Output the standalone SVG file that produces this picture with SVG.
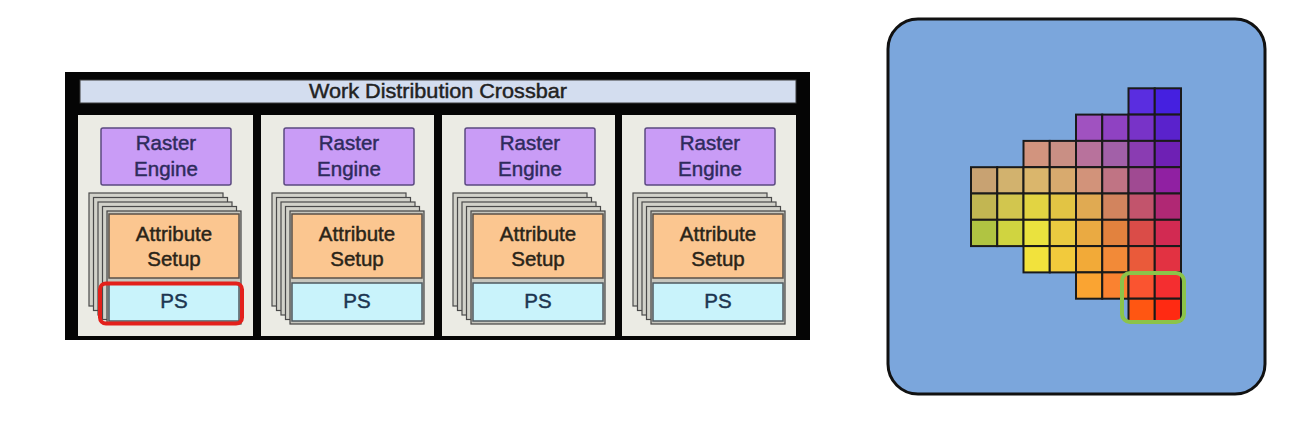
<svg xmlns="http://www.w3.org/2000/svg" width="1289" height="437" viewBox="0 0 1289 437">
<style>
.panel{fill:#ebebe4;}
.raster{fill:#c99cf6;stroke:#5b4a80;stroke-width:1.5;}
.card{fill:#d2d2ca;stroke:#4a4a4a;stroke-width:1.2;}
.front{fill:#c6c6be;stroke:#444;stroke-width:1.2;}
.attr{fill:#fbc690;stroke:#5a5048;stroke-width:1.5;}
.ps{fill:#c9f3fb;stroke:#4f5a60;stroke-width:1.5;}
.t{font-family:"Liberation Sans",Arial,sans-serif;font-size:20.5px;text-anchor:middle;stroke-width:0.45px;}
.tr{fill:#2e2b5c;stroke:#2e2b5c;}
.ta{fill:#2a2418;stroke:#2a2418;}
.tp{fill:#1c3550;stroke:#1c3550;}
.cell{stroke:#1a1a1a;stroke-width:2;}
</style>
<rect width="1289" height="437" fill="#ffffff"/>

<g id="gpc-frame">
<rect x="65" y="72" width="745" height="268" fill="#050505"/>
</g>
<g id="crossbar">
<rect x="80" y="80" width="716" height="23" fill="#d3ddef" stroke="#3a3a3a" stroke-width="1"/>
<text class="t" x="438" y="98" fill="#222" stroke="#222" textLength="258" lengthAdjust="spacingAndGlyphs">Work Distribution Crossbar</text>
</g>

<g id="gpc1" transform="translate(78,0)">
<rect class="panel" x="0" y="115" width="175" height="221"/>
<rect class="raster" x="23" y="128" width="130" height="57" rx="2"/>
<text class="t tr" x="88" y="150">Raster</text>
<text class="t tr" x="88" y="176">Engine</text>
<rect class="card" x="11" y="193" width="134" height="113"/>
<rect class="card" x="15.5" y="197.5" width="134" height="113"/>
<rect class="card" x="20" y="202" width="134" height="113"/>
<rect class="card" x="24.5" y="206.5" width="134" height="113"/>
<rect class="front" x="29" y="211" width="134" height="113"/>
<rect class="attr" x="31" y="214" width="130" height="64"/>
<text class="t ta" x="96" y="241">Attribute</text>
<text class="t ta" x="96" y="266">Setup</text>
<rect class="ps" x="31" y="283" width="130" height="38"/>
<text class="t tp" x="96" y="308">PS</text>
<rect x="22" y="283.5" width="142" height="40" rx="6" fill="none" stroke="#e3201b" stroke-width="4"/>
</g>

<g id="gpc2" transform="translate(261,0)">
<rect class="panel" x="0" y="115" width="173" height="221"/>
<rect class="raster" x="23" y="128" width="130" height="57" rx="2"/>
<text class="t tr" x="88" y="150">Raster</text>
<text class="t tr" x="88" y="176">Engine</text>
<rect class="card" x="11" y="193" width="134" height="113"/>
<rect class="card" x="15.5" y="197.5" width="134" height="113"/>
<rect class="card" x="20" y="202" width="134" height="113"/>
<rect class="card" x="24.5" y="206.5" width="134" height="113"/>
<rect class="front" x="29" y="211" width="134" height="113"/>
<rect class="attr" x="31" y="214" width="130" height="64"/>
<text class="t ta" x="96" y="241">Attribute</text>
<text class="t ta" x="96" y="266">Setup</text>
<rect class="ps" x="31" y="283" width="130" height="38"/>
<text class="t tp" x="96" y="308">PS</text>
</g>

<g id="gpc3" transform="translate(442,0)">
<rect class="panel" x="0" y="115" width="173" height="221"/>
<rect class="raster" x="23" y="128" width="130" height="57" rx="2"/>
<text class="t tr" x="88" y="150">Raster</text>
<text class="t tr" x="88" y="176">Engine</text>
<rect class="card" x="11" y="193" width="134" height="113"/>
<rect class="card" x="15.5" y="197.5" width="134" height="113"/>
<rect class="card" x="20" y="202" width="134" height="113"/>
<rect class="card" x="24.5" y="206.5" width="134" height="113"/>
<rect class="front" x="29" y="211" width="134" height="113"/>
<rect class="attr" x="31" y="214" width="130" height="64"/>
<text class="t ta" x="96" y="241">Attribute</text>
<text class="t ta" x="96" y="266">Setup</text>
<rect class="ps" x="31" y="283" width="130" height="38"/>
<text class="t tp" x="96" y="308">PS</text>
</g>

<g id="gpc4" transform="translate(622,0)">
<rect class="panel" x="0" y="115" width="174" height="221"/>
<rect class="raster" x="23" y="128" width="130" height="57" rx="2"/>
<text class="t tr" x="88" y="150">Raster</text>
<text class="t tr" x="88" y="176">Engine</text>
<rect class="card" x="11" y="193" width="134" height="113"/>
<rect class="card" x="15.5" y="197.5" width="134" height="113"/>
<rect class="card" x="20" y="202" width="134" height="113"/>
<rect class="card" x="24.5" y="206.5" width="134" height="113"/>
<rect class="front" x="29" y="211" width="134" height="113"/>
<rect class="attr" x="31" y="214" width="130" height="64"/>
<text class="t ta" x="96" y="241">Attribute</text>
<text class="t ta" x="96" y="266">Setup</text>
<rect class="ps" x="31" y="283" width="130" height="38"/>
<text class="t tp" x="96" y="308">PS</text>
</g>

<g id="connectors"></g>

<g id="raster-tile">
<rect x="888" y="19" width="377" height="375" rx="30" fill="#7ba6dc" stroke="#111" stroke-width="3"/>
<rect class="cell" x="1128.5" y="88.3" width="26.25" height="26.3" fill="#5a2de0"/>
<rect class="cell" x="1154.75" y="88.3" width="26.25" height="26.3" fill="#4520e0"/>
<rect class="cell" x="1076" y="114.6" width="26.25" height="26.3" fill="#a052c0"/>
<rect class="cell" x="1102.25" y="114.6" width="26.25" height="26.3" fill="#8f42c2"/>
<rect class="cell" x="1128.5" y="114.6" width="26.25" height="26.3" fill="#7833c8"/>
<rect class="cell" x="1154.75" y="114.6" width="26.25" height="26.3" fill="#5a22cc"/>
<rect class="cell" x="1023.5" y="140.9" width="26.25" height="26.3" fill="#d2947e"/>
<rect class="cell" x="1049.75" y="140.9" width="26.25" height="26.3" fill="#c98f84"/>
<rect class="cell" x="1076" y="140.9" width="26.25" height="26.3" fill="#b8729c"/>
<rect class="cell" x="1102.25" y="140.9" width="26.25" height="26.3" fill="#a260a8"/>
<rect class="cell" x="1128.5" y="140.9" width="26.25" height="26.3" fill="#8a3cb2"/>
<rect class="cell" x="1154.75" y="140.9" width="26.25" height="26.3" fill="#6e20b4"/>
<rect class="cell" x="971" y="167.2" width="26.25" height="26.3" fill="#c8a272"/>
<rect class="cell" x="997.25" y="167.2" width="26.25" height="26.3" fill="#d2b26e"/>
<rect class="cell" x="1023.5" y="167.2" width="26.25" height="26.3" fill="#dab66c"/>
<rect class="cell" x="1049.75" y="167.2" width="26.25" height="26.3" fill="#d8aa6e"/>
<rect class="cell" x="1076" y="167.2" width="26.25" height="26.3" fill="#d2937a"/>
<rect class="cell" x="1102.25" y="167.2" width="26.25" height="26.3" fill="#c07484"/>
<rect class="cell" x="1128.5" y="167.2" width="26.25" height="26.3" fill="#a04a92"/>
<rect class="cell" x="1154.75" y="167.2" width="26.25" height="26.3" fill="#9020a2"/>
<rect class="cell" x="971" y="193.5" width="26.25" height="26.3" fill="#c2b652"/>
<rect class="cell" x="997.25" y="193.5" width="26.25" height="26.3" fill="#d2c64e"/>
<rect class="cell" x="1023.5" y="193.5" width="26.25" height="26.3" fill="#e2d442"/>
<rect class="cell" x="1049.75" y="193.5" width="26.25" height="26.3" fill="#e2c444"/>
<rect class="cell" x="1076" y="193.5" width="26.25" height="26.3" fill="#e0aa52"/>
<rect class="cell" x="1102.25" y="193.5" width="26.25" height="26.3" fill="#d2845e"/>
<rect class="cell" x="1128.5" y="193.5" width="26.25" height="26.3" fill="#c2546c"/>
<rect class="cell" x="1154.75" y="193.5" width="26.25" height="26.3" fill="#b02874"/>
<rect class="cell" x="971" y="219.8" width="26.25" height="26.3" fill="#b0c442"/>
<rect class="cell" x="997.25" y="219.8" width="26.25" height="26.3" fill="#d0d440"/>
<rect class="cell" x="1023.5" y="219.8" width="26.25" height="26.3" fill="#eae23e"/>
<rect class="cell" x="1049.75" y="219.8" width="26.25" height="26.3" fill="#eaca40"/>
<rect class="cell" x="1076" y="219.8" width="26.25" height="26.3" fill="#eaaa42"/>
<rect class="cell" x="1102.25" y="219.8" width="26.25" height="26.3" fill="#e2823e"/>
<rect class="cell" x="1128.5" y="219.8" width="26.25" height="26.3" fill="#da4c48"/>
<rect class="cell" x="1154.75" y="219.8" width="26.25" height="26.3" fill="#d22a52"/>
<rect class="cell" x="1023.5" y="246.1" width="26.25" height="26.3" fill="#f2e23c"/>
<rect class="cell" x="1049.75" y="246.1" width="26.25" height="26.3" fill="#f2ca3c"/>
<rect class="cell" x="1076" y="246.1" width="26.25" height="26.3" fill="#f2aa38"/>
<rect class="cell" x="1102.25" y="246.1" width="26.25" height="26.3" fill="#f28a38"/>
<rect class="cell" x="1128.5" y="246.1" width="26.25" height="26.3" fill="#ea5a3a"/>
<rect class="cell" x="1154.75" y="246.1" width="26.25" height="26.3" fill="#e23242"/>
<rect class="cell" x="1076" y="272.4" width="26.25" height="26.3" fill="#faa432"/>
<rect class="cell" x="1102.25" y="272.4" width="26.25" height="26.3" fill="#fa8230"/>
<rect class="cell" x="1128.5" y="272.4" width="26.25" height="26.3" fill="#fa5430"/>
<rect class="cell" x="1154.75" y="272.4" width="26.25" height="26.3" fill="#f42e30"/>
<rect class="cell" x="1128.5" y="298.7" width="26.25" height="22.3" fill="#ff5612"/>
<rect class="cell" x="1154.75" y="298.7" width="26.25" height="22.3" fill="#ff2a12"/>
<rect x="1122" y="273" width="62" height="49" rx="8" fill="none" stroke="#8bc34a" stroke-width="4"/>
</g>
</svg>
